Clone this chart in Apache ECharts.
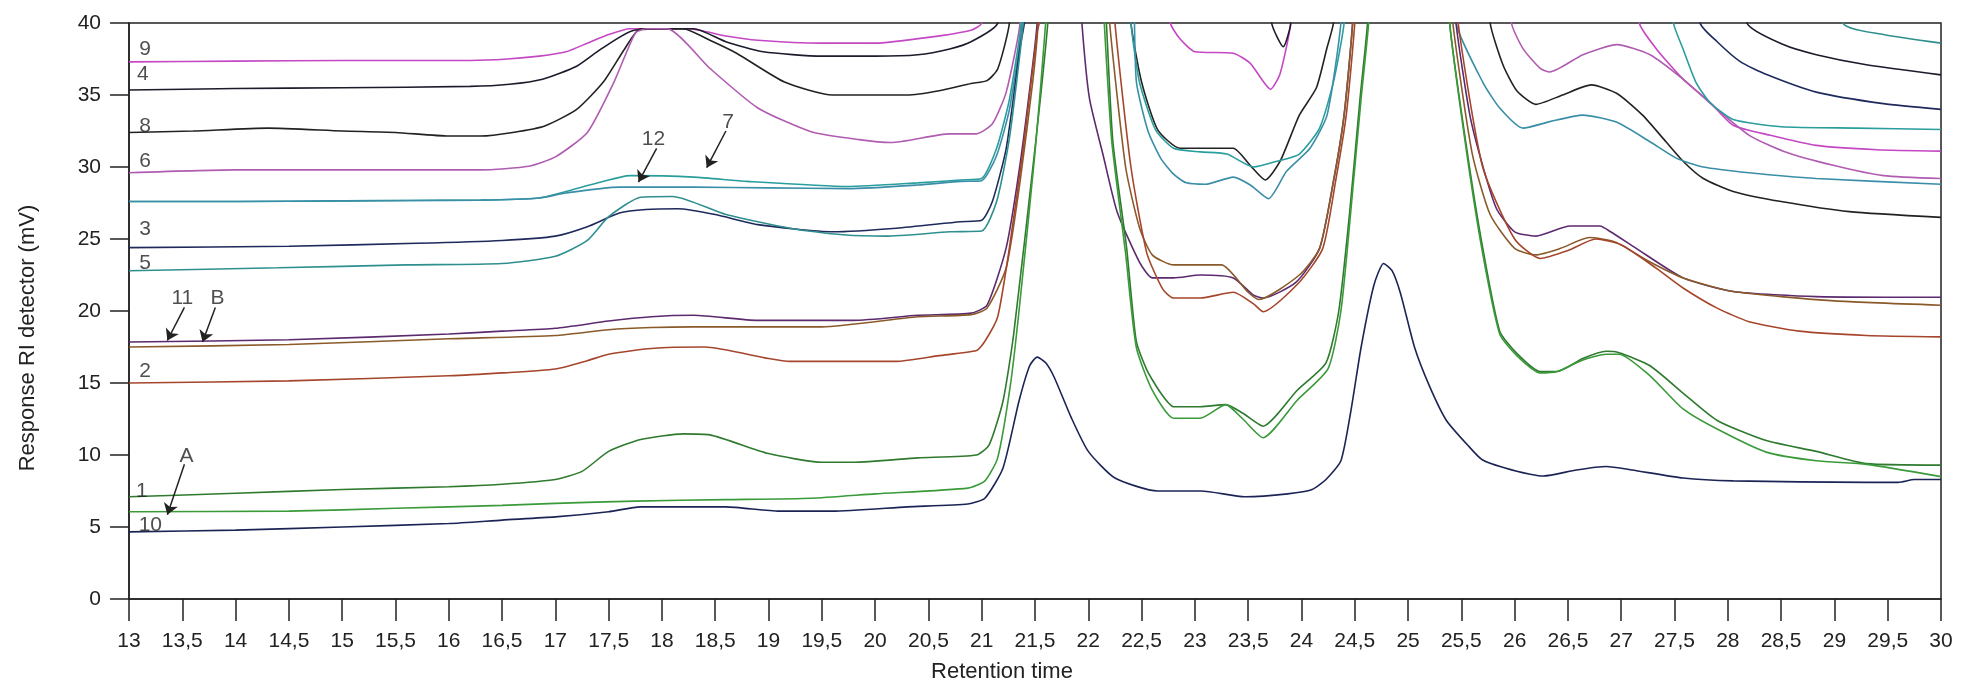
<!DOCTYPE html>
<html>
<head>
<meta charset="utf-8">
<script src="https://cdn.jsdelivr.net/npm/echarts@6/dist/echarts.min.js"></script>
<style>
  html, body { margin: 0; padding: 0; background: #fff; }
  #chart { width: 1966px; height: 684px; }
</style>
</head>
<body>
<div id="chart"></div>
<script>
// retention time [min] vs RI response [mV]; values above 40 run off the top of the plot
const s9 = [[13,37.3],[14,37.35],[15,37.4],[16.2,37.4],[16.55,37.5],[16.85,37.7],[17.1,38.0],[17.3,38.6],[17.5,39.2],[17.7,39.6],[18.25,39.6],[18.6,39.1],[18.9,38.8],[19.5,38.6],[20.0,38.6],[20.5,39.0],[20.9,39.5],[21.0,40],[21.1,50],[22.6,50],[22.77,40],[22.86,38.9],[23.0,38.0],[23.36,37.9],[23.52,37.2],[23.71,35.4],[23.8,36.5],[23.9,40],[24.0,50],[27.0,50],[27.17,40],[27.33,38.2],[27.58,36.1],[27.83,34.5],[28.05,32.9],[28.4,32.2],[28.83,31.5],[29.4,31.2],[30,31.1]];
const s4 = [[13,35.35],[14,35.45],[15,35.5],[16.2,35.6],[16.57,35.75],[16.88,36.1],[17.2,37.0],[17.43,38.2],[17.74,39.5],[18.3,39.6],[18.6,38.7],[18.95,38.0],[19.5,37.7],[20.0,37.7],[20.4,37.8],[20.7,38.2],[20.9,38.7],[21.15,40],[21.25,50],[23.6,50],[23.72,40],[23.83,38.35],[23.9,40],[24.0,50],[28.0,50],[28.18,40],[28.52,38.5],[28.83,37.8],[29.3,37.1],[30,36.4]];
const s8 = [[13,32.4],[13.6,32.5],[14.3,32.7],[15.0,32.5],[15.5,32.4],[16.0,32.15],[16.3,32.15],[16.6,32.4],[16.9,32.85],[17.2,34.0],[17.45,35.9],[17.65,38.2],[17.8,39.6],[18.2,39.6],[18.45,38.8],[18.7,37.9],[19.15,35.9],[19.6,35.0],[20.3,35.0],[20.6,35.3],[20.9,35.8],[21.05,36.0],[21.15,36.8],[21.26,40],[21.35,50],[22.3,50],[22.4,40],[22.5,35.9],[22.65,32.6],[22.86,31.3],[23.36,31.3],[23.52,30.1],[23.66,29.1],[23.8,30.4],[23.98,33.6],[24.14,35.5],[24.24,38.3],[24.3,40],[24.4,50],[25.65,50],[25.77,40],[25.89,37.1],[26.02,35.3],[26.2,34.35],[26.45,35.0],[26.72,35.7],[26.96,35.1],[27.2,33.6],[27.42,31.75],[27.58,30.4],[27.77,29.2],[28.05,28.3],[28.5,27.6],[29.14,26.9],[30,26.5]];
const s6 = [[13,29.6],[14,29.8],[15,29.8],[16.3,29.8],[16.75,30.05],[17.0,30.7],[17.3,32.4],[17.55,35.9],[17.75,39.3],[17.85,39.6],[18.05,39.6],[18.45,36.85],[18.9,34.1],[19.4,32.45],[19.85,31.9],[20.15,31.7],[20.7,32.3],[20.95,32.3],[21.1,33.0],[21.23,35.2],[21.36,40],[21.45,50],[25.85,50],[25.97,40],[26.08,38.2],[26.24,36.85],[26.33,36.6],[26.64,37.8],[26.96,38.5],[27.27,37.8],[27.58,36.1],[27.9,34.0],[28.2,32.2],[28.52,31.1],[29.0,30.1],[29.46,29.4],[30,29.2]];
const s7 = [[13,27.6],[14,27.6],[15,27.65],[16.3,27.7],[16.85,27.85],[17.1,28.3],[17.4,28.9],[17.7,29.4],[18.3,29.3],[18.8,29.0],[19.75,28.65],[20.4,28.9],[20.8,29.1],[21.0,29.2],[21.14,31.3],[21.26,34.7],[21.37,40],[21.45,50],[22.3,50],[22.4,40],[22.48,35.9],[22.63,32.6],[22.8,31.3],[23.05,31.05],[23.3,30.9],[23.55,30.0],[23.77,30.4],[23.98,30.9],[24.17,32.7],[24.3,35.9],[24.4,40],[24.5,50],[27.35,50],[27.49,40],[27.58,38.2],[27.7,35.9],[27.83,34.5],[28.05,33.3],[28.5,32.8],[29.2,32.7],[30,32.6]];
const s12 = [[13,27.6],[14,27.6],[15,27.65],[16.3,27.7],[16.85,27.85],[17.1,28.2],[17.6,28.6],[18.3,28.6],[19.0,28.55],[19.75,28.5],[20.4,28.75],[20.8,29.0],[21.0,29.05],[21.14,30.8],[21.26,34.0],[21.38,40],[21.45,50],[22.35,50],[22.45,36],[22.56,32.5],[22.68,30.6],[22.8,29.5],[22.92,28.9],[23.1,28.8],[23.36,29.3],[23.52,28.75],[23.69,27.8],[23.86,29.7],[24.08,31.3],[24.24,33.6],[24.37,40],[24.45,50],[25.35,50],[25.45,40],[25.7,35.9],[25.86,34.1],[26.08,32.7],[26.33,33.15],[26.64,33.6],[26.96,33.1],[27.27,31.75],[27.52,30.6],[27.77,30.0],[28.2,29.6],[28.83,29.2],[30,28.8]];
const s3 = [[13,24.4],[14.5,24.5],[15.7,24.7],[16.5,24.9],[17.0,25.2],[17.3,25.85],[17.6,26.8],[17.85,27.05],[18.15,27.1],[18.5,26.7],[18.9,26.0],[19.6,25.5],[20.2,25.75],[20.8,26.2],[21.0,26.3],[21.1,27.6],[21.23,31.3],[21.36,38.3],[21.4,40],[21.5,50],[27.6,50],[27.74,40],[27.9,38.7],[28.12,37.3],[28.37,36.4],[28.83,35.2],[29.46,34.4],[30,34.0]];
const s5 = [[13,22.8],[14.4,23.0],[15.6,23.2],[16.5,23.3],[17.0,23.8],[17.3,24.9],[17.5,26.55],[17.8,27.9],[18.1,27.95],[18.6,26.7],[19.2,25.75],[19.7,25.3],[20.1,25.2],[20.7,25.5],[21.0,25.55],[21.14,27.6],[21.26,32.0],[21.39,40],[21.5,50],[28.9,50],[29.08,40],[29.46,39.2],[30,38.6]];
const s11 = [[13,17.85],[14.5,18.0],[16,18.4],[16.5,18.6],[17,18.8],[17.5,19.3],[17.9,19.6],[18.3,19.7],[18.9,19.35],[19.8,19.35],[20.4,19.7],[20.9,19.85],[21.05,20.4],[21.23,24.4],[21.36,30.2],[21.48,37.2],[21.52,40],[21.6,50],[21.85,50],[21.94,40],[22.01,34.8],[22.14,30.8],[22.27,26.9],[22.48,23.4],[22.6,22.3],[22.8,22.3],[23.05,22.5],[23.36,22.3],[23.55,21.1],[23.64,20.9],[23.95,22.0],[24.17,24.35],[24.3,29.0],[24.4,33.6],[24.48,40],[24.55,50],[25.35,50],[25.45,40],[25.58,33.6],[25.7,30.1],[25.83,27.1],[26.0,25.5],[26.2,25.2],[26.52,25.9],[26.8,25.9],[26.9,25.5],[27.14,24.35],[27.58,22.3],[28.05,21.35],[28.83,21.0],[30,20.95]];
const sB = [[13,17.5],[14.5,17.67],[16,18.07],[17,18.3],[17.5,18.7],[17.9,18.85],[18.3,18.9],[19.5,18.9],[20.4,19.6],[20.9,19.75],[21.05,20.2],[21.23,23.0],[21.36,29.0],[21.48,36.0],[21.53,40],[21.6,50],[22.1,50],[22.2,40],[22.35,30.0],[22.48,25.8],[22.6,23.9],[22.8,23.2],[23.05,23.2],[23.25,23.2],[23.5,21.3],[23.6,20.8],[23.98,22.5],[24.17,24.35],[24.3,29.0],[24.4,33.6],[24.48,40],[24.55,50],[25.3,50],[25.42,40],[25.6,31],[25.77,26.7],[26.0,24.35],[26.2,23.9],[26.43,24.35],[26.7,25.1],[26.94,24.8],[27.27,23.4],[27.58,22.3],[28.05,21.35],[29.0,20.7],[30,20.4]];
const s2 = [[13,15.0],[14.5,15.15],[16,15.5],[16.5,15.7],[17,15.97],[17.3,16.55],[17.5,17.0],[17.9,17.4],[18.4,17.5],[19.0,16.7],[19.2,16.5],[20.2,16.5],[20.6,16.9],[20.95,17.25],[21.03,17.9],[21.15,19.6],[21.26,24.4],[21.39,31.3],[21.52,39.4],[21.54,40],[21.62,50],[22.15,50],[22.25,40],[22.4,30],[22.55,24],[22.7,21.5],[22.8,20.9],[23.05,20.9],[23.36,21.3],[23.55,20.5],[23.64,19.95],[23.98,22.0],[24.2,24.35],[24.32,29],[24.42,33.6],[24.5,40],[24.57,50],[25.35,50],[25.47,40],[25.7,30],[26.0,25.0],[26.24,23.65],[26.5,24.2],[26.76,25.0],[27.0,24.6],[27.33,22.96],[27.58,21.6],[27.9,20.2],[28.2,19.26],[28.67,18.6],[29.3,18.3],[30,18.2]];
const s1 = [[13,7.1],[14,7.34],[15,7.6],[16,7.8],[16.5,7.97],[17,8.3],[17.25,8.86],[17.5,10.25],[17.8,11.07],[18.2,11.47],[18.45,11.4],[19.0,10.1],[19.5,9.5],[19.8,9.5],[20.4,9.8],[20.95,10.0],[21.07,10.7],[21.2,13.75],[21.3,18.4],[21.5,31.3],[21.62,40],[21.7,50],[22.1,50],[22.17,40],[22.23,31.8],[22.36,24.35],[22.45,17.9],[22.55,15.9],[22.68,14.3],[22.8,13.35],[23.05,13.35],[23.29,13.5],[23.45,12.9],[23.64,12.0],[23.96,14.5],[24.23,16.4],[24.35,20],[24.45,26.7],[24.55,34.8],[24.62,40],[24.7,50],[25.3,50],[25.39,40],[25.55,31.3],[25.7,24.4],[25.86,18.6],[26.02,17.06],[26.24,15.8],[26.4,15.8],[26.64,16.7],[26.86,17.2],[26.98,17.1],[27.27,16.2],[27.58,14.3],[27.9,12.4],[28.36,11.0],[28.83,10.25],[29.3,9.4],[30,9.3]];
const sA = [[13,6.06],[14.5,6.1],[15.5,6.3],[16.5,6.5],[17,6.64],[17.75,6.8],[18.6,6.9],[19.4,7.0],[20.0,7.3],[20.87,7.7],[21.03,8.2],[21.15,9.8],[21.27,14.9],[21.35,20],[21.5,31],[21.6,40],[21.68,50],[22.08,50],[22.15,40],[22.22,31.8],[22.35,24],[22.45,17.5],[22.6,14.5],[22.8,12.55],[23.05,12.55],[23.29,13.5],[23.45,12.5],[23.64,11.2],[23.96,13.8],[24.25,16],[24.37,20],[24.46,26.7],[24.56,34.8],[24.63,40],[24.7,50],[25.3,50],[25.39,40],[25.55,31],[25.7,24],[25.86,18.4],[26.02,16.9],[26.24,15.7],[26.4,15.8],[26.64,16.6],[26.86,17.0],[26.98,17.0],[27.27,15.5],[27.58,13.2],[27.9,11.8],[28.36,10.2],[28.83,9.6],[29.3,9.35],[30,8.5]];
const s10 = [[13,4.66],[14,4.78],[15,5.0],[16,5.24],[16.5,5.48],[17,5.7],[17.5,6.06],[17.8,6.4],[18.6,6.4],[19.1,6.1],[19.6,6.1],[20.3,6.4],[20.87,6.6],[21.03,7.0],[21.2,9.1],[21.35,13.75],[21.45,16.2],[21.52,16.8],[21.6,16.4],[21.68,15.4],[21.84,12.6],[22.0,10.25],[22.25,8.4],[22.65,7.5],[23.06,7.5],[23.47,7.1],[23.87,7.3],[24.1,7.6],[24.23,8.3],[24.37,9.6],[24.46,12.9],[24.56,17.5],[24.68,21.8],[24.77,23.3],[24.85,22.8],[24.93,21.2],[25.06,17.5],[25.2,14.8],[25.36,12.4],[25.57,10.6],[25.7,9.65],[26.02,8.87],[26.27,8.54],[26.58,8.96],[26.86,9.2],[27.1,8.96],[27.58,8.4],[28.05,8.2],[29.3,8.1],[29.6,8.1],[29.75,8.3],[30,8.3]];

const curveNames = ['9', '4', '8', '6', '7', '12', '3', '5', '11', 'B', '2', '1', 'A', '10'];
const curveData = [s9, s4, s8, s6, s7, s12, s3, s5, s11, sB, s2, s1, sA, s10];
const curveColors = ['#c447c4', '#1b1b2b', '#222222', '#b05cb0', '#2a9d9d', '#3a8ea8', '#1f2a5c', '#2f8f8f',
                     '#5c2a6e', '#8b5a2b', '#a5462c', '#2f7a2f', '#3a9a3a', '#1c2456'];

// curve tags written on the plot
const tagText = ['9', '4', '8', '6', '3', '5', '2', '1', '10', '12', '7', '11', 'B', 'A'];
const tagPos = [[13.15,38.2],[13.13,36.45],[13.15,32.85],[13.15,30.4],[13.15,25.65],[13.15,23.3],[13.15,15.85],[13.12,7.5],[13.2,5.1],
                [17.92,31.9],[18.62,33.1],[13.5,20.9],[13.83,20.9],[13.54,9.95]];
// arrows from a tag to its curve
const arrowFrom = [[17.95,31.3],[18.6,32.5],[13.52,20.25],[13.81,20.25],[13.52,9.35]];
const arrowTo = [[17.78,28.95],[18.42,29.95],[13.36,17.95],[13.69,17.85],[13.36,5.85]];

const chart = echarts.init(document.getElementById('chart'));

const lineSeries = curveData.map((d, i) => ({
  name: curveNames[i],
  type: 'line',
  data: d,
  showSymbol: false,
  smooth: 0.2,
  clip: true,
  lineStyle: { color: curveColors[i], width: 1.6 },
  itemStyle: { color: curveColors[i] },
  emphasis: { disabled: true },
  z: 2
}));

chart.setOption({
  animation: false,
  backgroundColor: '#fff',
  textStyle: { fontFamily: 'Liberation Sans, Arial, sans-serif' },
  grid: {
    left: 129, right: 25, top: 23, bottom: 85,
    outerBoundsMode: 'none',
    show: true, borderColor: '#222', borderWidth: 1.5, backgroundColor: 'transparent'
  },
  xAxis: {
    type: 'value', min: 13, max: 30, interval: 0.5,
    name: 'Retention time', nameLocation: 'middle', nameGap: 62,
    nameTextStyle: { fontSize: 22, color: '#222', padding: [0, 66, 0, 0] },
    axisLine: { show: true, onZero: false, lineStyle: { color: '#222', width: 1.5 } },
    axisTick: { show: true, length: 22, lineStyle: { color: '#222', width: 1.5 } },
    axisLabel: { fontSize: 21, color: '#222', margin: 32, formatter: v => String(v).replace('.', ',') },
    splitLine: { show: false }
  },
  yAxis: {
    type: 'value', min: 0, max: 40, interval: 5,
    name: 'Response RI detector (mV)', nameLocation: 'middle', nameGap: 90, nameRotate: 90,
    nameTextStyle: { fontSize: 22, color: '#222', padding: [0, 54, 0, 0] },
    axisLine: { show: true, lineStyle: { color: '#222', width: 1.5 } },
    axisTick: { show: true, length: 19, lineStyle: { color: '#222', width: 1.5 } },
    axisLabel: { fontSize: 21, color: '#222', margin: 28 },
    splitLine: { show: false }
  },
  series: [
    ...lineSeries,
    {
      type: 'lines',
      coordinateSystem: 'cartesian2d',
      data: arrowFrom.map((p, i) => ({ coords: [p, arrowTo[i]] })),
      symbol: ['none', 'arrow'],
      symbolSize: 11,
      lineStyle: { color: '#222', width: 1.5, opacity: 1 },
      silent: true,
      z: 5
    },
    {
      type: 'scatter',
      data: tagPos.map((p, i) => ({ name: tagText[i], value: p })),
      symbolSize: 0,
      silent: true,
      label: {
        show: true, position: 'inside', formatter: '{b}',
        fontSize: 21, color: '#222', align: 'center', verticalAlign: 'middle'
      },
      z: 6
    }
  ]
});
</script>
</body>
</html>
